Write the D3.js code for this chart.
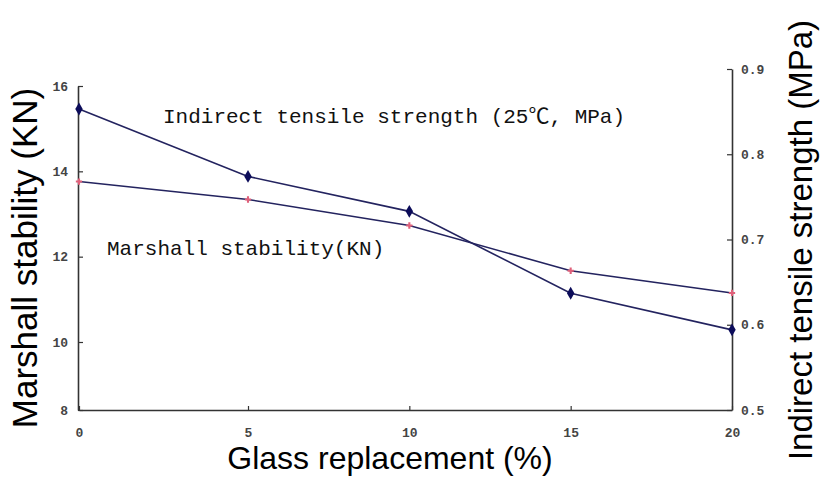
<!DOCTYPE html>
<html>
<head>
<meta charset="utf-8">
<script src="https://cdn.jsdelivr.net/npm/d3@7"></script>
<style>
    body { margin: 0; background: #fff; }
    svg { display: block; }
</style>
</head>
<body>
<svg></svg>
<script>
(() => {
    const glassPct = [0, 5, 10, 15, 20];
    const marshall = [13.76, 13.34, 12.73, 11.67, 11.15];
    const tensile = [0.853, 0.774, 0.733, 0.637, 0.594];
    const leftTicks = [8, 10, 12, 14, 16];
    const rightTicks = [0.5, 0.6, 0.7, 0.8, 0.9];
    const xTicks = [0, 5, 10, 15, 20];

    const width = 822;
    const height = 477;
    const lineColor = "#23235f";
    const axisColor = "#333";
    const tickFont = "'Liberation Mono', monospace";
    const noteFont = "'Liberation Mono', 'Noto Sans CJK SC', monospace";
    const titleFont = "'Liberation Sans', Arial, sans-serif";

    // the source picture is not evenly spaced, hence the extra domain stops
    const xScale = d3.scaleLinear()
        .domain([0, 5, 20])
        .range([79, 248, 732]);

    const yLeft = d3.scaleLinear()
        .domain([8, 10, 16])
        .range([410, 342, 86]);

    const yRight = d3.scaleLinear()
        .domain([0.5, 0.9])
        .range([410, 69]);

    const svg = d3.select("svg")
        .attr("width", width)
        .attr("height", height);

    const styleAxis = (g) => {
        g.select(".domain").attr("stroke", axisColor).attr("stroke-width", 1.6);
        g.selectAll(".tick line").attr("stroke", axisColor).attr("stroke-width", 1.2);
        g.selectAll(".tick text")
            .attr("fill", "#444")
            .attr("font-family", tickFont)
            .attr("font-weight", "bold")
            .attr("font-size", 13);
    };

    const createAxes = () => {
        svg.append("g")
            .attr("transform", "translate(78, 0)")
            .call(d3.axisLeft(yLeft)
                .tickValues(leftTicks)
                .tickSize(-5)
                .tickSizeOuter(0)
                .tickPadding(10))
            .call(styleAxis);

        svg.append("g")
            .attr("transform", "translate(732, 0)")
            .call(d3.axisRight(yRight)
                .tickValues(rightTicks)
                .tickFormat(d3.format(".1f"))
                .tickSize(-5)
                .tickSizeOuter(0)
                .tickPadding(9))
            .call(styleAxis);

        svg.append("g")
            .attr("transform", "translate(0, 410)")
            .call(d3.axisBottom(xScale)
                .tickValues(xTicks)
                .tickSize(-4)
                .tickSizeOuter(0)
                .tickPadding(18))
            .call(styleAxis);
    };

    const createLine = (values, yScale) => {
        const data = glassPct.map((x, i) => ({ x, y: values[i] }));
        const line = d3.line()
            .x(d => xScale(d.x))
            .y(d => yScale(d.y));

        svg.append("path")
            .datum(data)
            .attr("fill", "none")
            .attr("stroke", lineColor)
            .attr("stroke-width", 1.6)
            .attr("d", line);

        return data;
    };

    createAxes();

    const tensileData = createLine(tensile, yRight);
    const marshallData = createLine(marshall, yLeft);

    svg.selectAll("path.its-mark")
        .data(tensileData)
        .enter()
        .append("path")
        .attr("class", "its-mark")
        .attr("fill", "#0c0c5a")
        .attr("transform", d => `translate(${xScale(d.x)}, ${yRight(d.y)})`)
        .attr("d", d3.symbol(d3.symbolDiamond, 48));

    svg.selectAll("path.ms-mark")
        .data(marshallData)
        .enter()
        .append("path")
        .attr("class", "ms-mark")
        .attr("fill", "#e0607a")
        .attr("transform", d => `translate(${xScale(d.x)}, ${yLeft(d.y)})`)
        .attr("d", d3.symbol(d3.symbolCross, 22));

    // notes inside the plot
    svg.append("text")
        .attr("x", 163)
        .attr("y", 123)
        .attr("font-family", noteFont)
        .attr("font-size", 21)
        .attr("fill", "#111")
        .text("Indirect tensile strength (25℃, MPa)");

    svg.append("text")
        .attr("x", 107)
        .attr("y", 255)
        .attr("font-family", noteFont)
        .attr("font-size", 21)
        .attr("fill", "#111")
        .text("Marshall stability(KN)");

    // axis titles
    svg.append("text")
        .attr("transform", "translate(37, 258) rotate(-90)")
        .attr("text-anchor", "middle")
        .attr("font-family", titleFont)
        .attr("font-size", 35)
        .attr("fill", "#000")
        .text("Marshall stability (KN)");

    svg.append("text")
        .attr("transform", "translate(812, 240) rotate(-90)")
        .attr("text-anchor", "middle")
        .attr("font-family", titleFont)
        .attr("font-size", 33)
        .attr("fill", "#000")
        .text("Indirect tensile strength (MPa)");

    svg.append("text")
        .attr("x", 390)
        .attr("y", 469)
        .attr("text-anchor", "middle")
        .attr("font-family", titleFont)
        .attr("font-size", 32)
        .attr("fill", "#000")
        .text("Glass replacement (%)");
})();
</script>
</body>
</html>
